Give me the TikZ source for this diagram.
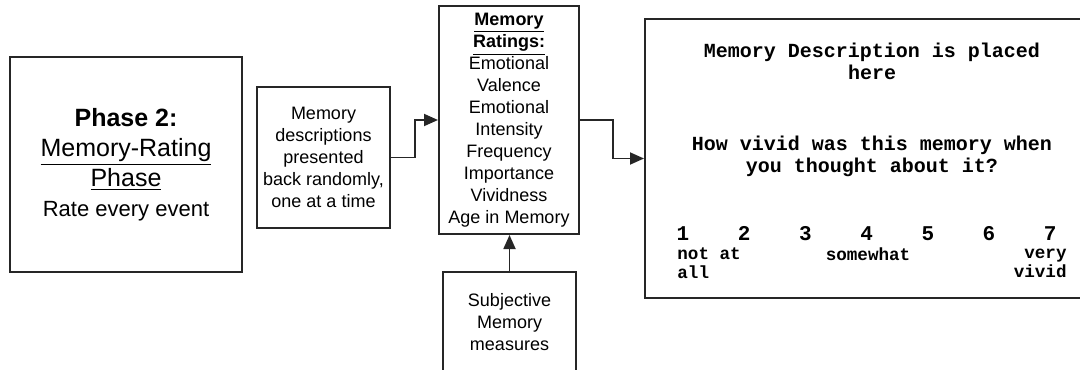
\documentclass[tikz,border=0pt]{standalone}
\usepackage{fontspec}
\setmainfont{Liberation Sans}
\setmonofont{Liberation Mono}
\usetikzlibrary{positioning,arrows.meta,calc}
\tikzset{
  >={Triangle[length=7pt,width=6pt]},
  procbox/.style={draw=black!85,line width=1pt,align=center,inner sep=2pt,
    font=\fontsize{9}{11}\selectfont},
  flow/.style={->,line width=0.9pt,black!85},
  scrtxt/.style={font=\ttfamily\bfseries\fontsize{10}{11}\selectfont,
    align=center,inner sep=0pt},
  scrnum/.style={font=\ttfamily\bfseries\fontsize{10.5}{11}\selectfont,
    inner sep=0pt,anchor=base},
  scrlbl/.style={font=\ttfamily\bfseries\fontsize{8.8}{9.5}\selectfont,
    inner sep=0pt},
}
\newcommand{\bigtxt}{\fontsize{12.5}{15}\selectfont}
\newcommand{\midtxt}{\fontsize{11}{15}\selectfont}

\begin{document}
\begin{tikzpicture}[x=0.5pt,y=-0.5pt]
  \clip (0,0) rectangle (1080,369);
  \node[procbox,font=\bigtxt,minimum width=116pt,minimum height=107.5pt] (phase) at (126,164.5)
    {\textbf{Phase 2:}\\\underline{Memory-Rating}\\
     \underline{Phase}\\{\midtxt Rate every event}};
  \node[procbox,minimum width=66.5pt,minimum height=70.5pt] (desc) at (323.5,157.5)
    {Memory\\descriptions\\presented\\back randomly,\\one at a time};
  \node[procbox,minimum width=70pt,minimum height=114pt] (ratings) at (509,120)
    {\textbf{\underline{Memory}}\\\textbf{\underline{Ratings:}}\\Emotional\\Valence\\
     Emotional\\Intensity\\Frequency\\Importance\\Vividness\\Age in Memory};
  \node[procbox,minimum width=66.5pt,minimum height=50pt] (subj) at (509.5,322)
    {Subjective\\Memory\\measures};
  % the rating screen, cut off at the right edge
  \node[procbox,minimum width=227pt,minimum height=139.5pt] (screen) at (872,158.5) {};
  \node[scrtxt] (memdesc) at (872,61) {Memory Description is placed\\here};
  \node[scrtxt] (question) at (872,156) {How vivid was this memory when\\you thought about it?};
  \foreach \i in {1,...,7}
    \node[scrnum] (n\i) at ({683+61.2*(\i-1)},240) {\i};
  \node[scrlbl,align=left,anchor=west] (lo) at (677,263.5) {not at\\all};
  \node[scrlbl] (mid) at (868,254) {somewhat};
  \node[scrlbl,align=right,anchor=east] (hi) at (1067,263.5) {very\\vivid};
  % connectors
  \draw[flow] (desc.east) -- ++(24,0) |- (ratings.west);
  \draw[flow] (ratings.east) -- ++(33,0) |- (screen.west);
  \draw[flow] (subj.north) -- (subj.north |- ratings.south);
\end{tikzpicture}
\end{document}
